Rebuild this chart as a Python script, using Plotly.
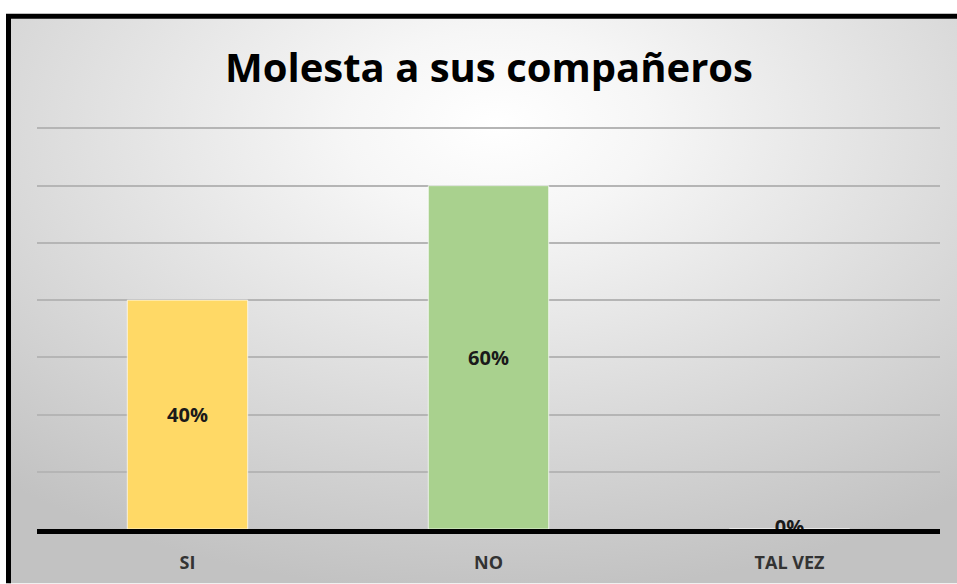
import base64
import plotly.graph_objects as go

categories = ["SI", "NO", "TAL VEZ"]
values = [0.40, 0.60, 0.00]
bar_colors = ["#FFD966", "#A9D18E", "#5B9BD5"]
title_text = "Molesta a sus compañeros"

W, H = 957, 584
ML, MR, MT, MB = 37, 17, 116.5, 54.5
PW = W - ML - MR
PH = H - MT - MB

svg = f'''<svg xmlns="http://www.w3.org/2000/svg" width="{W}" height="{H}" viewBox="0 0 {W} {H}" preserveAspectRatio="none">
<defs><radialGradient id="g" cx="0.5" cy="0.18" r="0.78">
<stop offset="0" stop-color="#ffffff"/><stop offset="0.2" stop-color="#f6f6f6"/>
<stop offset="1" stop-color="#c2c2c2"/></radialGradient></defs>
<rect x="0" y="0" width="{W}" height="{H}" fill="#ffffff"/>
<rect x="8.5" y="15.5" width="{W+20}" height="{H+20}" fill="url(#g)" stroke="#000" stroke-width="5"/>
</svg>'''
src = "data:image/svg+xml;base64," + base64.b64encode(svg.encode()).decode()

bar_text = [f"{v:.0%}" if v > 0 else "" for v in values]

fig = go.Figure(go.Bar(
    x=categories, y=values,
    marker=dict(color=bar_colors, line=dict(color="rgba(255,255,255,0.7)", width=1)),
    text=bar_text, textposition="inside", insidetextanchor="middle",
    constraintext="none", cliponaxis=False,
    textfont=dict(family="Open Sans", size=20, color="#1a1a1a", weight="bold"),
    hoverinfo="skip",
))

# labels for zero-height bars, centred on (and under) the axis line
zero_cats = [c for c, v in zip(categories, values) if v == 0]
zero_vals = [v for v in values if v == 0]
fig.add_trace(go.Scatter(
    x=zero_cats, y=zero_vals, mode="text",
    text=[f"{v:.0%}" for v in zero_vals], textposition="middle center",
    textfont=dict(family="Open Sans", size=20, color="#1a1a1a", weight="bold"),
    cliponaxis=False, hoverinfo="skip",
))

fig.update_layout(
    width=W, height=H,
    margin=dict(l=ML, r=MR, t=MT, b=MB, pad=0, autoexpand=False),
    paper_bgcolor="#ffffff", plot_bgcolor="rgba(0,0,0,0)",
    bargap=0.6, showlegend=False,
    title=dict(text="<b>" + title_text + "</b>", x=489 / W, xref="container", xanchor="center",
               y=1 - 68 / H, yref="container", yanchor="middle",
               font=dict(family="Open Sans", size=40, color="#000000")),
    images=[dict(source=src, xref="paper", yref="paper", x=-ML / PW, y=1 + MT / PH,
                 sizex=W / PW, sizey=H / PH, xanchor="left", yanchor="top",
                 sizing="stretch", layer="below")],
    xaxis=dict(showline=True, linecolor="#000000", linewidth=5, showgrid=False,
               ticks="outside", ticklen=13, tickcolor="rgba(0,0,0,0)", automargin=False,
               tickfont=dict(family="Open Sans", size=18, color="#333333", weight="bold"),
               fixedrange=True, layer="above traces"),
    yaxis=dict(range=[0, 0.72], tickvals=[0.1, 0.2, 0.3, 0.4, 0.5, 0.6, 0.7],
               showticklabels=False, showline=False,
               zeroline=False, gridcolor="#b5b5b5", gridwidth=2, fixedrange=True,
               automargin=False),
)

fig.write_html("out.html", config={"displayModeBar": False, "staticPlot": True},
               post_script="document.body.style.margin='0';document.body.style.overflow='hidden';")
